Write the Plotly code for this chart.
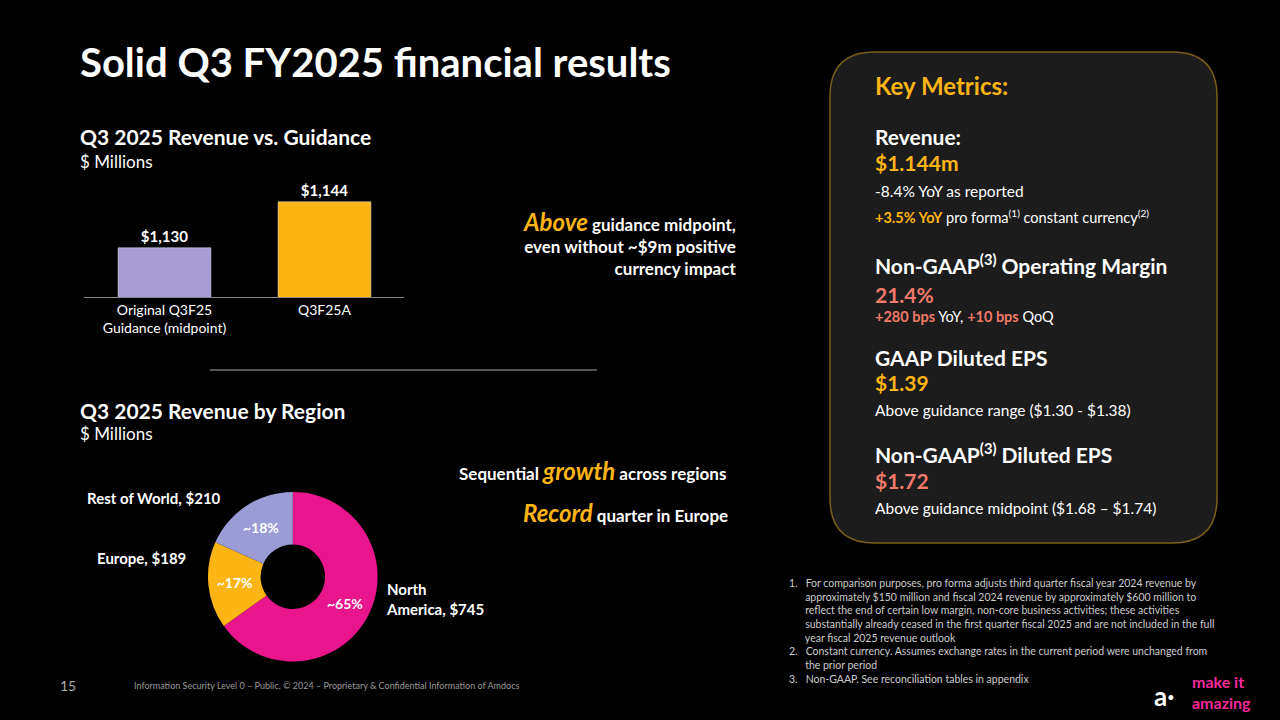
import plotly.graph_objects as go

bar_cats = ["Original Q3F25<br>Guidance (midpoint)", "Q3F25A"]
bar_vals = [1130, 1144]
bar_labels = ["$1,130", "$1,144"]

regions = ["North America", "Europe", "Rest of World"]
region_vals = [745, 189, 210]
region_pct = ["~65%", "~17%", "~18%"]

F = "Lato"
W = "white"
ORANGE = "#FDB515"
PINK = "#F07A6A"

fig = go.Figure()

fig.add_trace(go.Bar(
    x=bar_cats, y=bar_vals, text=["<b>%s</b>" % t for t in bar_labels], textposition="outside",
    marker_color=["#A99BD6", ORANGE], width=0.58, cliponaxis=False,
    textfont=dict(color=W, size=15, family=F), showlegend=False,
))

fig.add_trace(go.Pie(
    labels=regions, values=region_vals, text=["<b>%s</b>" % t for t in region_pct], textinfo="text",
    hole=0.38, sort=False, direction="clockwise", rotation=0,
    marker=dict(colors=["#E8158C", ORANGE, "#9B9BD6"], line=dict(width=0)),
    textfont=dict(color=W, size=14, family=F), insidetextorientation="horizontal",
    domain=dict(x=[0.1625, 0.295], y=[0.081, 0.317]), showlegend=False,
))

fig.update_layout(
    width=1280, height=720, paper_bgcolor="black", plot_bgcolor="black",
    margin=dict(l=0, r=0, t=0, b=0), font=dict(family=F, color=W),
    xaxis=dict(domain=[0.066, 0.316], showgrid=False, showline=True,
               linecolor="#888", tickfont=dict(size=14, color=W), ticks=""),
    yaxis=dict(domain=[0.5875, 0.747], range=[1115, 1150], visible=False),
)

def txt(x, y, s, size, color=W, anchor="left", bold=False, yanchor="middle"):
    if bold:
        s = "<b>" + s + "</b>"
    fig.add_annotation(xref="paper", yref="paper", x=x / 1280, y=1 - y / 720,
                       text=s, showarrow=False, xanchor=anchor, yanchor=yanchor,
                       align=anchor, font=dict(size=size, color=color, family=F))

# panel: rounded rect in pixel coords converted to paper
L, R, T, B, r = 830, 1217, 52, 543, 45
def p(x, y):
    return "%.4f,%.4f" % (x / 1280, 1 - y / 720)
path = ("M %s L %s Q %s %s L %s Q %s %s L %s Q %s %s L %s Q %s %s Z" % (
    p(L + r, T), p(R - r, T), p(R, T), p(R, T + r), p(R, B - r), p(R, B), p(R - r, B),
    p(L + r, B), p(L, B), p(L, B - r), p(L, T + r), p(L, T), p(L + r, T)))
fig.add_shape(type="path", xref="paper", yref="paper", path=path,
              fillcolor="#1C1C1C", line=dict(color="#7a5f1a", width=1.5), layer="below")

txt(78, 62, "Solid Q3 FY2025 financial results", 40, bold=True)
txt(78, 136, "Q3 2025 Revenue vs. Guidance", 21, bold=True)
txt(78, 161, "$ Millions", 17)
txt(738, 243, "<b><i><span style='color:#FDB515;font-size:24px'>Above</span></i> guidance midpoint,<br>even without ~$9m positive<br>currency impact</b>", 17, anchor="right")
fig.add_shape(type="line", xref="paper", yref="paper", x0=210/1280, x1=597/1280,
              y0=1-370/720, y1=1-370/720, line=dict(color="#aaa", width=1))
txt(78, 410, "Q3 2025 Revenue by Region", 21, bold=True)
txt(78, 433, "$ Millions", 17)
txt(728, 470, "<b>Sequential <i><span style='color:#FDB515;font-size:24px'>growth</span></i> across regions</b>", 17, anchor="right")
txt(730, 512, "<b><i><span style='color:#FDB515;font-size:24px'>Record</span></i> quarter in Europe</b>", 17, anchor="right")
txt(223, 498, "Rest of World, $210", 15, anchor="right", bold=True)
txt(188, 558, "Europe, $189", 15, anchor="right", bold=True)
txt(384, 599, "North<br>America, $745", 15, bold=True)

x0 = 873
txt(x0, 85, "Key Metrics:", 24, color=ORANGE, bold=True)
txt(x0, 136, "Revenue:", 21, bold=True)
txt(x0, 163, "$1.144m", 21, color=ORANGE, bold=True)
txt(x0, 191, "-8.4% YoY as reported", 15.5)
txt(x0, 216, "<b><span style='color:#FDB515'>+3.5% YoY</span></b> pro forma<sup>(1)</sup> constant currency<sup>(2)</sup>", 14.5)
txt(x0, 264, "Non-GAAP<sup>(3)</sup> Operating Margin", 21, bold=True)
txt(x0, 294, "21.4%", 21, color=PINK, bold=True)
txt(x0, 316, "<b><span style='color:#F07A6A'>+280 bps</span></b> YoY, <b><span style='color:#F07A6A'>+10 bps</span></b> QoQ", 14.5)
txt(x0, 357, "GAAP Diluted EPS", 21, bold=True)
txt(x0, 382, "$1.39", 21, color=ORANGE, bold=True)
txt(x0, 410, "Above guidance range ($1.30 - $1.38)", 15.5)
txt(x0, 453, "Non-GAAP<sup>(3)</sup> Diluted EPS", 21, bold=True)
txt(x0, 480, "$1.72", 21, color=PINK, bold=True)
txt(x0, 508, "Above guidance midpoint ($1.68 – $1.74)", 15.5)

notes = ("1.&nbsp;&nbsp;&nbsp;For comparison purposes, pro forma adjusts third quarter fiscal year 2024 revenue by<br>"
         "&nbsp;&nbsp;&nbsp;&nbsp;&nbsp;&nbsp;approximately $150 million and fiscal 2024 revenue by approximately $600 million to<br>"
         "&nbsp;&nbsp;&nbsp;&nbsp;&nbsp;&nbsp;reflect the end of certain low margin, non-core business activities; these activities<br>"
         "&nbsp;&nbsp;&nbsp;&nbsp;&nbsp;&nbsp;substantially already ceased in the first quarter fiscal 2025 and are not included in the full<br>"
         "&nbsp;&nbsp;&nbsp;&nbsp;&nbsp;&nbsp;year fiscal 2025 revenue outlook<br>"
         "2.&nbsp;&nbsp;&nbsp;Constant currency. Assumes exchange rates in the current period were unchanged from<br>"
         "&nbsp;&nbsp;&nbsp;&nbsp;&nbsp;&nbsp;the prior period<br>"
         "3.&nbsp;&nbsp;&nbsp;Non-GAAP. See reconciliation tables in appendix")
txt(787, 575, notes, 10.5, color="#cccccc", yanchor="top")
txt(58, 685, "15", 14, color="#aaa")
txt(132, 685, "Information Security Level 0 – Public. © 2024 – Proprietary & Confidential Information of Amdocs", 9, color="#999")
txt(1190, 692, "make it<br>amazing", 16, color="#F7299E", bold=True)
txt(1152, 696, "a·", 26, bold=True)

fig.write_html("out.html", config={"displayModeBar": False},
               post_script="document.body.style.margin='0';")
